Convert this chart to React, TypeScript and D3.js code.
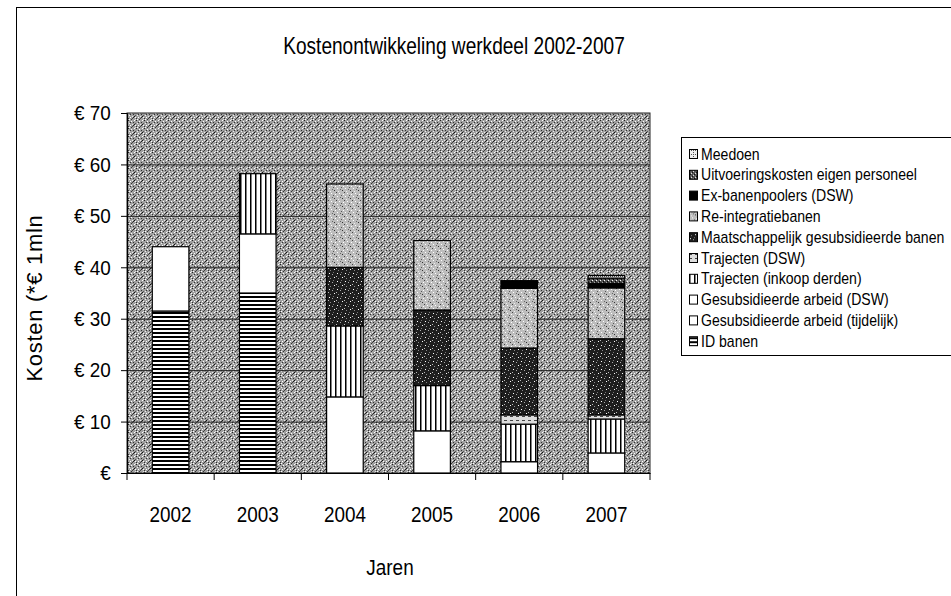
import React, { useEffect, useRef } from "react";
import * as d3 from "d3";

// jaren en reeksen (onderaan de stapel eerst)
const years = ["2002", "2003", "2004", "2005", "2006", "2007"];
const seriesNames = [
  "ID banen",
  "Gesubsidieerde arbeid (tijdelijk)",
  "Gesubsidieerde arbeid (DSW)",
  "Trajecten (inkoop derden)",
  "Trajecten (DSW)",
  "Maatschappelijk gesubsidieerde banen",
  "Re-integratiebanen",
  "Ex-banenpoolers (DSW)",
  "Uitvoeringskosten eigen personeel",
  "Meedoen",
];
const idBanen = [31.5, 35, 0, 0, 0, 0];
const gesubTijdelijk = [12.5, 11.5, 0, 0, 0, 0];
const gesubDSW = [0, 0, 14.8, 8.2, 2.2, 3.9];
const trajectenInkoop = [0, 11.7, 13.8, 8.8, 7.3, 6.6];
const trajectenDSW = [0, 0, 0, 0, 1.8, 0.8];
const maatschappelijk = [0, 0, 11.4, 14.7, 13, 14.8];
const reintegratie = [0, 0, 16.2, 13.5, 11.6, 9.9];
const exBanenpoolers = [0, 0, 0, 0, 1.5, 0.9];
const uitvoering = [0, 0, 0, 0, 0, 1.0];
const meedoen = [0, 0, 0, 0, 0, 0.5];
const seriesValues = [
  idBanen, gesubTijdelijk, gesubDSW, trajectenInkoop, trajectenDSW,
  maatschappelijk, reintegratie, exBanenpoolers, uitvoering, meedoen,
];
const yTicks = [0, 10, 20, 30, 40, 50, 60, 70];
const yTickLabels = ["€", "€ 10", "€ 20", "€ 30", "€ 40", "€ 50", "€ 60", "€ 70"];

const fills = [
  "url(#hstripe)", "#fff", "#fff", "url(#vstripe)", "url(#lightdash)",
  "url(#darkspeck)", "url(#lightspeck)", "#000", "url(#darkcheck)", "url(#lightgrid)",
];

const FONT = "'Liberation Sans', Arial, sans-serif";

export default function App() {
  const ref = useRef<SVGSVGElement>(null);

  useEffect(() => {
    const svg = d3.select(ref.current);
    svg.selectAll("*").remove();
    const left = 127, right = 650, top = 113, bottom = 473;

    const defs = svg.append("defs");
    function speck(id: string, base: string, dots: [number, number, string][], size: number) {
      const p = defs.append("pattern").attr("id", id).attr("width", size).attr("height", size)
        .attr("patternUnits", "userSpaceOnUse");
      p.append("rect").attr("width", size).attr("height", size).attr("fill", base);
      dots.forEach(([x, y, c]) => p.append("rect").attr("x", x).attr("y", y)
        .attr("width", 1).attr("height", 1).attr("fill", c));
    }
    speck("bg", "#a0a0a0", [
      [0, 0, "#222"], [3, 1, "#fff"], [5, 2, "#333"], [1, 3, "#eee"], [6, 4, "#111"],
      [2, 5, "#fff"], [4, 6, "#444"], [7, 7, "#ddd"], [6, 0, "#fff"], [2, 2, "#333"],
      [4, 4, "#eee"], [0, 6, "#333"], [7, 3, "#555"], [1, 7, "#fff"], [5, 5, "#222"],
      [3, 7, "#333"], [7, 5, "#fff"],
    ], 8);
    speck("darkspeck", "#1e1e1e", [
      [1, 1, "#fff"], [4, 2, "#aaa"], [6, 5, "#fff"], [2, 6, "#888"], [5, 0, "#777"], [0, 4, "#bbb"],
    ], 8);
    speck("lightspeck", "#bdbdbd", [
      [0, 0, "#444"], [3, 1, "#fff"], [5, 3, "#555"], [1, 4, "#fff"], [6, 6, "#333"],
      [2, 7, "#eee"], [7, 2, "#fff"], [4, 5, "#666"],
    ], 8);
    speck("darkcheck", "#555", [[0, 0, "#fff"], [2, 2, "#fff"], [1, 3, "#000"], [3, 1, "#000"]], 4);
    speck("lightgrid", "#eee", [[0, 0, "#555"], [2, 0, "#555"], [0, 2, "#555"]], 4);
    const hs = defs.append("pattern").attr("id", "hstripe").attr("width", 4).attr("height", 4)
      .attr("patternUnits", "userSpaceOnUse");
    hs.append("rect").attr("width", 4).attr("height", 4).attr("fill", "#fff");
    hs.append("rect").attr("width", 4).attr("height", 2).attr("fill", "#000");
    const vs = defs.append("pattern").attr("id", "vstripe").attr("width", 5).attr("height", 5)
      .attr("patternUnits", "userSpaceOnUse");
    vs.append("rect").attr("width", 5).attr("height", 5).attr("fill", "#fff");
    vs.append("rect").attr("width", 1.5).attr("height", 5).attr("fill", "#000");
    const ld = defs.append("pattern").attr("id", "lightdash").attr("width", 6).attr("height", 4)
      .attr("patternUnits", "userSpaceOnUse");
    ld.append("rect").attr("width", 6).attr("height", 4).attr("fill", "#ddd");
    ld.append("rect").attr("width", 3).attr("height", 1).attr("fill", "#444");

    // kader
    svg.append("rect").attr("x", 16.5).attr("y", 7.5).attr("width", 960).attr("height", 620)
      .attr("fill", "#fff").attr("stroke", "#000");

    const x = d3.scaleBand().domain(years).range([left, right]).paddingInner(0.58).paddingOuter(0.29);
    const y = d3.scaleLinear().domain([0, 70]).range([bottom, top]);

    svg.append("rect").attr("x", left).attr("y", top).attr("width", right - left)
      .attr("height", bottom - top).attr("fill", "url(#bg)").attr("stroke", "#222");

    svg.append("g").selectAll("line").data(yTicks.slice(1, -1)).join("line")
      .attr("x1", left).attr("x2", right).attr("y1", (d) => y(d) + 0.5).attr("y2", (d) => y(d) + 0.5)
      .attr("stroke", "#222").attr("stroke-width", 1);

    const rows = years.map((yr, i) => {
      const r: any = { year: yr };
      seriesNames.forEach((s, j) => (r[s] = seriesValues[j][i]));
      return r;
    });
    const stacked = d3.stack().keys(seriesNames)(rows);
    svg.append("g").selectAll("g").data(stacked).join("g")
      .attr("fill", (_d, i) => fills[i])
      .selectAll("rect").data((d) => d.filter((p) => p[1] - p[0] > 0)).join("rect")
      .attr("x", (d: any) => x(d.data.year)!)
      .attr("width", x.bandwidth())
      .attr("y", (d) => y(d[1]))
      .attr("height", (d) => y(d[0]) - y(d[1]))
      .attr("stroke", "#000").attr("stroke-width", 1.2);

    const yAxis = svg.append("g").attr("transform", `translate(${left},0)`)
      .call(d3.axisLeft(y).tickValues(yTicks).tickFormat((_d, i) => yTickLabels[i]).tickSize(6).tickPadding(12));
    yAxis.select(".domain").attr("stroke", "#000");
    yAxis.selectAll("text").attr("font-family", FONT).attr("font-size", 21).attr("fill", "#000")
      .attr("transform", "scale(0.9,1)");

    const xAxis = svg.append("g").attr("transform", `translate(0,${bottom})`)
      .call(d3.axisBottom(x).tickSize(0).tickPadding(33));
    xAxis.select(".domain").attr("stroke", "#000");
    xAxis.selectAll("text").attr("font-family", FONT).attr("font-size", 22.5).attr("fill", "#000")
      .attr("transform", "scale(0.84,1)");
    const edges = years.map((d) => x(d)! - (x.step() * x.paddingInner()) / 2).concat([right]);
    svg.append("g").selectAll("line").data(edges).join("line")
      .attr("x1", (d) => d).attr("x2", (d) => d).attr("y1", bottom).attr("y2", bottom + 7)
      .attr("stroke", "#000");

    svg.append("text").attr("transform", "translate(454,54) scale(0.83,1)").attr("text-anchor", "middle")
      .attr("font-family", FONT).attr("font-size", 23)
      .text("Kostenontwikkeling werkdeel 2002-2007");
    svg.append("text").attr("transform", "translate(390,575) scale(0.88,1)").attr("text-anchor", "middle")
      .attr("font-family", FONT).attr("font-size", 21.5).text("Jaren");
    svg.append("text").attr("transform", "translate(42,298) rotate(-90)").attr("text-anchor", "middle")
      .attr("font-family", FONT).attr("font-size", 22).attr("letter-spacing", 0.7)
      .text("Kosten (*€ 1mln");

    // legenda (bovenaan de laatste reeks)
    const lg = svg.append("g");
    lg.append("rect").attr("x", 681.5).attr("y", 137.5).attr("width", 400).attr("height", 218)
      .attr("fill", "#fff").attr("stroke", "#000");
    const legendOrder = seriesNames.map((s, i) => ({ s, i })).reverse();
    const items = lg.selectAll("g.item").data(legendOrder).join("g").attr("class", "item")
      .attr("transform", (_d, k) => `translate(689,${154 + k * 20.8})`);
    items.append("rect").attr("x", 0.5).attr("y", -4.5).attr("width", 8).attr("height", 9)
      .attr("fill", (d) => fills[d.i]).attr("stroke", "#000");
    items.append("text").attr("transform", "translate(12,5.5) scale(0.88,1)").attr("font-family", FONT)
      .attr("font-size", 16).text((d) => d.s);
  }, []);

  return (
    <div style={{ position: "absolute", left: 0, top: 0 }}>
      <svg ref={ref} width={951} height={596} style={{ display: "block" }} />
    </div>
  );
}
